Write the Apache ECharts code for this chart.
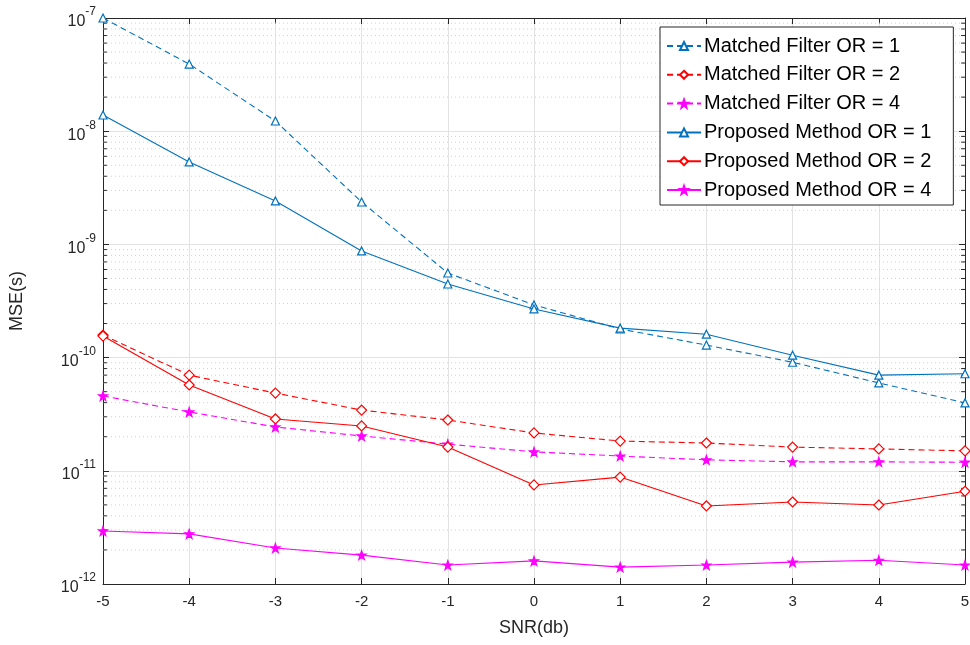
<!DOCTYPE html>
<html>
<head>
    <meta charset="utf-8">
    <script src="https://cdn.jsdelivr.net/npm/echarts@6/dist/echarts.min.js"></script>
</head>
<body style="margin:0">
    <div id="main" style="width:970px; height:645px;"></div>
</body>
	<script type="text/javascript">
        var snr = [-5, -4, -3, -2, -1, 0, 1, 2, 3, 4, 5];
		var mf1 = [1.0e-7, 3.92e-8, 1.23e-8, 2.37e-9, 5.59e-10, 2.92e-10, 1.79e-10, 1.29e-10, 9.1e-11, 5.97e-11, 3.98e-11];
		var mf2 = [1.58e-10, 7.0e-11, 4.86e-11, 3.44e-11, 2.81e-11, 2.16e-11, 1.83e-11, 1.76e-11, 1.62e-11, 1.56e-11, 1.50e-11];
		var mf4 = [4.58e-11, 3.31e-11, 2.44e-11, 2.03e-11, 1.72e-11, 1.47e-11, 1.35e-11, 1.25e-11, 1.20e-11, 1.20e-11, 1.19e-11];
		var pm1 = [1.39e-8, 5.35e-9, 2.42e-9, 8.75e-10, 4.47e-10, 2.69e-10, 1.82e-10, 1.61e-10, 1.05e-10, 7.0e-11, 7.2e-11];
		var pm2 = [1.55e-10, 5.73e-11, 2.87e-11, 2.49e-11, 1.62e-11, 7.5e-12, 8.8e-12, 4.89e-12, 5.30e-12, 4.99e-12, 6.6e-12];
		var pm4 = [2.94e-12, 2.77e-12, 2.08e-12, 1.80e-12, 1.47e-12, 1.60e-12, 1.41e-12, 1.47e-12, 1.56e-12, 1.62e-12, 1.47e-12];
		var names = ['Matched Filter OR = 1', 'Matched Filter OR = 2', 'Matched Filter OR = 4',
			'Proposed Method OR = 1', 'Proposed Method OR = 2', 'Proposed Method OR = 4'];

		var blue = '#0072BD', red = '#FF0000', mag = '#FF00FF';
		var star = 'path://M0,-10 L2.35,-3.24 L9.51,-3.09 L3.8,1.24 L5.88,8.09 L0,4 L-5.88,8.09 L-3.8,1.24 L-9.51,-3.09 L-2.35,-3.24 Z';

		function pairs(vals) {
			return snr.map(function (x, i) { return [x, vals[i]]; });
		}
		function mk(name, vals, color, dashed, symbol, hollow, size) {
			return {
				name: name, type: 'line', z: 5, data: pairs(vals),
				symbol: symbol, symbolSize: size, showSymbol: true,
				lineStyle: { color: color, width: 1.1, type: dashed ? [6, 4] : 'solid' },
				itemStyle: { color: hollow ? '#fff' : color, borderColor: color, borderWidth: 1.2 },
				emphasis: { disabled: true }
			};
		}

		// minor log grid (2..9 per decade), drawn as broken line series
		var minorVals = [];
		for (var e = -12; e < -7; e++) {
			for (var m = 2; m <= 9; m++) minorVals.push(m * Math.pow(10, e));
		}
		var gridData = [], tickData = [];
		minorVals.forEach(function (v) {
			gridData.push([-5, v], [5, v], ['-', '-']);
			tickData.push([-5, v], [-4.955, v], ['-', '-'], [4.955, v], [5, v], ['-', '-']);
		});
		function helper(data, style, z) {
			return {
				type: 'line', z: z, data: data, silent: true, symbol: 'none',
				connectNulls: false, lineStyle: style, emphasis: { disabled: true }, tooltip: { show: false }
			};
		}

        var myChart = echarts.init(document.getElementById('main'));
      	option = {
			animation: false,
			grid: { left: 103, right: 5, top: 18, bottom: 61, outerBoundsMode: 'none', containLabel: false },
			xAxis: [{
				type: 'value', min: -5, max: 5, interval: 1,
				name: 'SNR(db)', nameLocation: 'middle', nameGap: 35,
				nameTextStyle: { fontSize: 18, color: '#262626', fontFamily: 'Liberation Sans' },
				axisLine: { onZero: false, lineStyle: { color: '#262626' } },
				axisTick: { inside: true, length: 6, lineStyle: { color: '#262626' } },
				axisLabel: { fontSize: 15, color: '#262626', fontFamily: 'Liberation Sans', margin: 10 },
				splitLine: { lineStyle: { color: '#e3e3e3' } }
			}, {
				type: 'value', min: -5, max: 5, interval: 1, position: 'top',
				axisLine: { onZero: false, lineStyle: { color: '#262626' } },
				axisTick: { inside: true, length: 6, lineStyle: { color: '#262626' } },
				axisLabel: { show: false }, splitLine: { show: false }
			}],
			yAxis: [{
				type: 'log', logBase: 10, min: 1e-12, max: 1e-7,
				name: 'MSE(s)', nameLocation: 'middle', nameGap: 77, nameRotate: 90,
				nameTextStyle: { fontSize: 18, color: '#262626', fontFamily: 'Liberation Sans' },
				axisLine: { onZero: false, lineStyle: { color: '#262626' } },
				axisTick: { inside: true, length: 6, lineStyle: { color: '#262626' } },
				axisLabel: {
					margin: 7, fontFamily: 'Liberation Sans',
					formatter: function (v) {
						return '{b|10}{s|' + Math.round(Math.log10(v)) + '}';
					},
					rich: {
						b: { fontSize: 16, color: '#262626', fontFamily: 'Liberation Sans', padding: [8, 0, 0, 0] },
						s: { fontSize: 12, color: '#262626', fontFamily: 'Liberation Sans', verticalAlign: 'top', padding: [0, 0, 8, 0] }
					}
				},
				splitLine: { lineStyle: { color: '#e3e3e3' } }
			}, {
				type: 'log', logBase: 10, min: 1e-12, max: 1e-7, position: 'right',
				axisLine: { show: true, onZero: false, lineStyle: { color: '#262626' } },
				axisTick: { show: true, inside: true, length: 6, lineStyle: { color: '#262626' } },
				axisLabel: { show: false }, splitLine: { show: false }
			}],
			legend: {
				data: names, orient: 'vertical', left: 660, top: 27,
				backgroundColor: '#fff', borderColor: '#262626', borderWidth: 1,
				padding: [9, 22, 5, 6], itemGap: 8.8, itemWidth: 34, itemHeight: 10,
				textStyle: { fontSize: 20, color: '#000', fontFamily: 'Liberation Sans', padding: [0, 0, 0, -2] }
			},
			series: [
				helper(gridData, { color: '#d0d0d0', type: [1, 3], width: 1 }, 1),
				helper(tickData, { color: '#262626', type: 'solid', width: 1 }, 2),
				mk(names[0], mf1, blue, true, 'triangle', true, 8),
				mk(names[1], mf2, red, true, 'diamond', true, 10),
				mk(names[2], mf4, mag, true, star, false, 9),
				mk(names[3], pm1, blue, false, 'triangle', true, 8),
				mk(names[4], pm2, red, false, 'diamond', true, 10),
				mk(names[5], pm4, mag, false, star, false, 9)
			]
		};
        myChart.setOption(option);
    </script>
</html>
